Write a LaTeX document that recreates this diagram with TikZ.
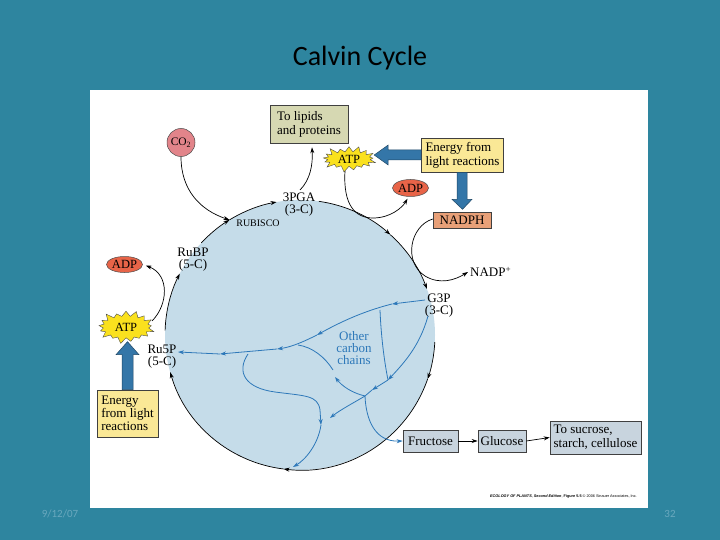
\documentclass[tikz,border=0pt]{standalone}
\usepackage{fontspec}
\setmainfont{Liberation Serif}
\newfontfamily\titlefont{Carlito}
\newfontfamily\capfont{Liberation Sans}
\usetikzlibrary{arrows.meta,shapes.geometric,shapes.symbols,calc}
\definecolor{slidebg}{RGB}{46,133,159}
\definecolor{cyclefill}{RGB}{197,220,233}
\definecolor{flowblue}{RGB}{45,120,185}
\definecolor{thickblue}{RGB}{52,118,168}
\definecolor{lipidfill}{RGB}{214,216,178}
\definecolor{energyfill}{RGB}{250,232,150}
\definecolor{nadphfill}{RGB}{232,160,120}
\definecolor{adpfill}{RGB}{232,100,72}
\definecolor{co2fill}{RGB}{226,132,138}
\definecolor{atpfill}{RGB}{250,225,30}
\definecolor{sugarfill}{RGB}{200,212,222}
\definecolor{datecol}{RGB}{105,168,190}
\begin{document}
\begin{tikzpicture}[x=1pt,y=1pt,
  cyc/.style={draw=black, line width=0.7pt, -{Stealth[length=6pt,width=4pt]}},
  flow/.style={draw=flowblue, line width=0.8pt, -{Stealth[length=6pt,width=4pt]}},
  flowplain/.style={draw=flowblue, line width=0.8pt},
  lab/.style={font=\fontsize{13}{13.5}\selectfont, inner sep=0pt, align=center},
  boxs/.style={draw=black!75, line width=0.6pt, font=\fontsize{13}{14}\selectfont, inner sep=1pt, align=left},
  atpstar/.style={starburst, starburst points=17, starburst point height=7pt, random starburst=100, fill=atpfill, draw=black!70, line width=0.4pt, font=\fontsize{12.5}{12.5}\selectfont},
  oval/.style={ellipse, fill=adpfill, draw=black!70, line width=0.5pt, font=\fontsize{12.5}{12.5}\selectfont, inner sep=0pt},
  bigarrow/.style={fill=thickblue, draw=thickblue!60!black, line width=0.5pt}
]
\fill[slidebg] (0,0) rectangle (720,-540);
\useasboundingbox (0,0) rectangle (720,-540);
\fill[white] (90,-90) rectangle (648,-508);

\node[font=\titlefont\fontsize{28}{32}\selectfont] (title) at (360,-58) {Calvin Cycle};
\node[font=\titlefont\fontsize{11}{12}\selectfont, text=datecol] (date) at (60,-514) {9/12/07};
\node[font=\titlefont\fontsize{11}{12}\selectfont, text=datecol] (page) at (670,-514) {32};

% cycle body
\coordinate (C) at (300,-335);
\fill[cyclefill] (C) circle[radius=135];

% cycle arcs (clockwise)
\draw[cyc] ($(C)+(178:135)$) arc[start angle=178,end angle=153,radius=135];
\draw[cyc] ($(C)+(137:135)$) arc[start angle=137,end angle=121.5,radius=135];
\coordinate (rub) at ($(C)+(121.5:135)$);
\draw[cyc] (rub) arc[start angle=121.5,end angle=100,radius=135];
\draw[cyc] ($(C)+(82:135)$) arc[start angle=82,end angle=48,radius=135];
\draw[cyc] ($(C)+(48:135)$) arc[start angle=48,end angle=20,radius=135];
\draw[cyc] ($(C)+(-3:135)$) arc[start angle=-3,end angle=-19,radius=135];
\draw[cyc] ($(C)+(-19:135)$) arc[start angle=-19,end angle=-97,radius=135];
\draw[cyc] ($(C)+(-97:135)$) arc[start angle=-97,end angle=-164,radius=135];

% labels on cycle
\node[lab] (pga) at (299,-205) {3PGA\\[-1.5pt](3-C)};
\node[lab, font=\fontsize{10}{11}\selectfont] (rubisco) at (258,-223) {RUBISCO};
\node[lab] (rubp) at (193,-260) {RuBP\\[-1.5pt](5-C)};
\node[lab] (ru5p) at (162,-357) {Ru5P\\[-1.5pt](5-C)};
\node[lab] (g3p) at (439,-306) {G3P\\[-1.5pt](3-C)};
\node[lab, anchor=west] (nadpp) at (470,-272) {NADP\textsuperscript{+}};
\node[lab, text=flowblue] (other) at (354,-348) {Other\\[-1.5pt]carbon\\[-1.5pt]chains};

% boxes
\node[boxs, fill=lipidfill, minimum width=78pt, minimum height=38pt] (lip) at (309,-124) {To lipids\\and proteins};
\node[boxs, fill=energyfill, minimum width=82pt, minimum height=34pt] (en1) at (462.5,-155) {Energy from\\light reactions};
\node[boxs, fill=nadphfill, minimum width=58pt, minimum height=16pt, align=center] (nadph) at (462,-220) {NADPH};
\node[boxs, fill=energyfill, minimum width=61pt, minimum height=47pt, font=\fontsize{13}{12.8}\selectfont] (en2) at (127.5,-413.5) {Energy\\from light\\reactions};
\node[boxs, fill=sugarfill, minimum width=55pt, minimum height=22pt, align=center] (fru) at (430.5,-441) {Fructose};
\node[boxs, fill=sugarfill, minimum width=48pt, minimum height=22pt, align=center] (glu) at (502,-441) {Glucose};
\node[boxs, fill=sugarfill, minimum width=91pt, minimum height=33pt] (suc) at (595.5,-437.5) {To sucrose,\\starch, cellulose};

% ovals and stars
\node[circle, fill=co2fill, draw=black!70, line width=0.5pt, minimum size=28pt, inner sep=0pt, font=\fontsize{11.5}{11.5}\selectfont] (co2) at (181,-142.5) {CO\textsubscript{2}};
\node[oval, minimum width=36pt, minimum height=17pt] (adp1) at (410.5,-188) {ADP};
\node[oval, minimum width=36pt, minimum height=16pt] (adp2) at (124.5,-264.5) {ADP};
\node[atpstar, inner xsep=4pt, inner ysep=1pt] (atp1) at (349,-159) {ATP};
\node[atpstar, inner xsep=5pt, inner ysep=3.5pt] (atp2) at (126,-327) {ATP};

% thick blue arrows
\filldraw[bigarrow] (en1.west) ++(0,5) -- ++(-33,0) -- ++(0,5) -- ++(-14,-10) -- ++(14,-10) -- ++(0,5) -- ++(33,0) -- cycle;
\filldraw[bigarrow] (en1.south) ++(4.5,0) -- ++(0,-27) -- ++(5,0) -- ++(-9.5,-10) -- ++(-10.5,10) -- ++(5,0) -- ++(0,27) -- cycle;
\filldraw[bigarrow] (en2.north) ++(-5.5,0) -- ++(0,35) -- ++(-6,0) -- ++(11.5,13) -- ++(11.5,-13) -- ++(-6,0) -- ++(0,-35) -- cycle;

% side connectors
\draw[cyc] (co2.south) .. controls (181,-190) and (200,-210) .. (rub);
\draw[cyc] (300,-190) .. controls (310,-180) and (313,-165) .. ($(lip.south)+(3,-4)$);
\draw[cyc] (345,-171) .. controls (343,-205) and (355,-218) .. (373,-218) .. controls (390,-218) and (402,-208) .. ($(adp1.south)+(-3,-2)$);
\draw[cyc] ($(nadph.west)+(0,1)$) .. controls (410,-226) and (403,-262) .. (425,-276) .. controls (440,-285) and (455,-280) .. ($(nadpp.west)+(-2,0)$);
\draw[cyc] (152,-321) .. controls (168,-305) and (170,-275) .. ($(adp2.east)+(3,-1)$);

% sugar chain
\draw[cyc] (fru.east) -- (glu.west);
\draw[cyc] (glu.east) -- (suc.west);

% internal blue flows
\coordinate (J) at (365,-396);
\draw[flow] (425,-300) -- (392,-304);
\draw[flow] (392,-304) .. controls (360,-312) and (335,-325) .. (317,-335);
\draw[flow] (317,-335) .. controls (305,-341) and (292,-347) .. (277,-349);
\draw[flow] (277,-349) -- (220,-354);
\draw[flow] (220,-354) -- (178,-352);
\draw[flowplain] (380,-310) .. controls (381,-335) and (384,-360) .. (388,-380);
\draw[flow] (428,-316) .. controls (420,-345) and (405,-362) .. (388,-380);
\draw[flow] (388,-380) -- (372,-390);
\draw[flowplain] (372,-390) -- (J);
\draw[flow] (J) .. controls (352,-393) and (342,-386) .. (335,-377);
\draw[flowplain] (333,-370) .. controls (325,-357) and (312,-347) .. (298,-345);
\draw[flow] (J) .. controls (355,-402) and (340,-410) .. (330,-418);
\draw[flow] (J) .. controls (366,-420) and (375,-442) .. (fru.west);
\draw[flowplain] (248,-354) .. controls (236,-372) and (245,-388) .. (275,-392) .. controls (305,-396) and (318,-395) .. (320,-410);
\draw[flow] (320,-410) -- (321,-425);
\draw[flow] (321,-425) .. controls (318,-445) and (305,-460) .. (293,-467);

% caption
\node[anchor=east, inner sep=0pt, font=\capfont\fontsize{3.8}{4}\selectfont] (cap) at (637,-497) {\textbf{\textit{ECOLOGY OF PLANTS}}, \textbf{\textit{Second Edition}}, \textbf{Figure 5.5} \textcopyright{} 2006 Sinauer Associates, Inc.};
\end{tikzpicture}
\end{document}
